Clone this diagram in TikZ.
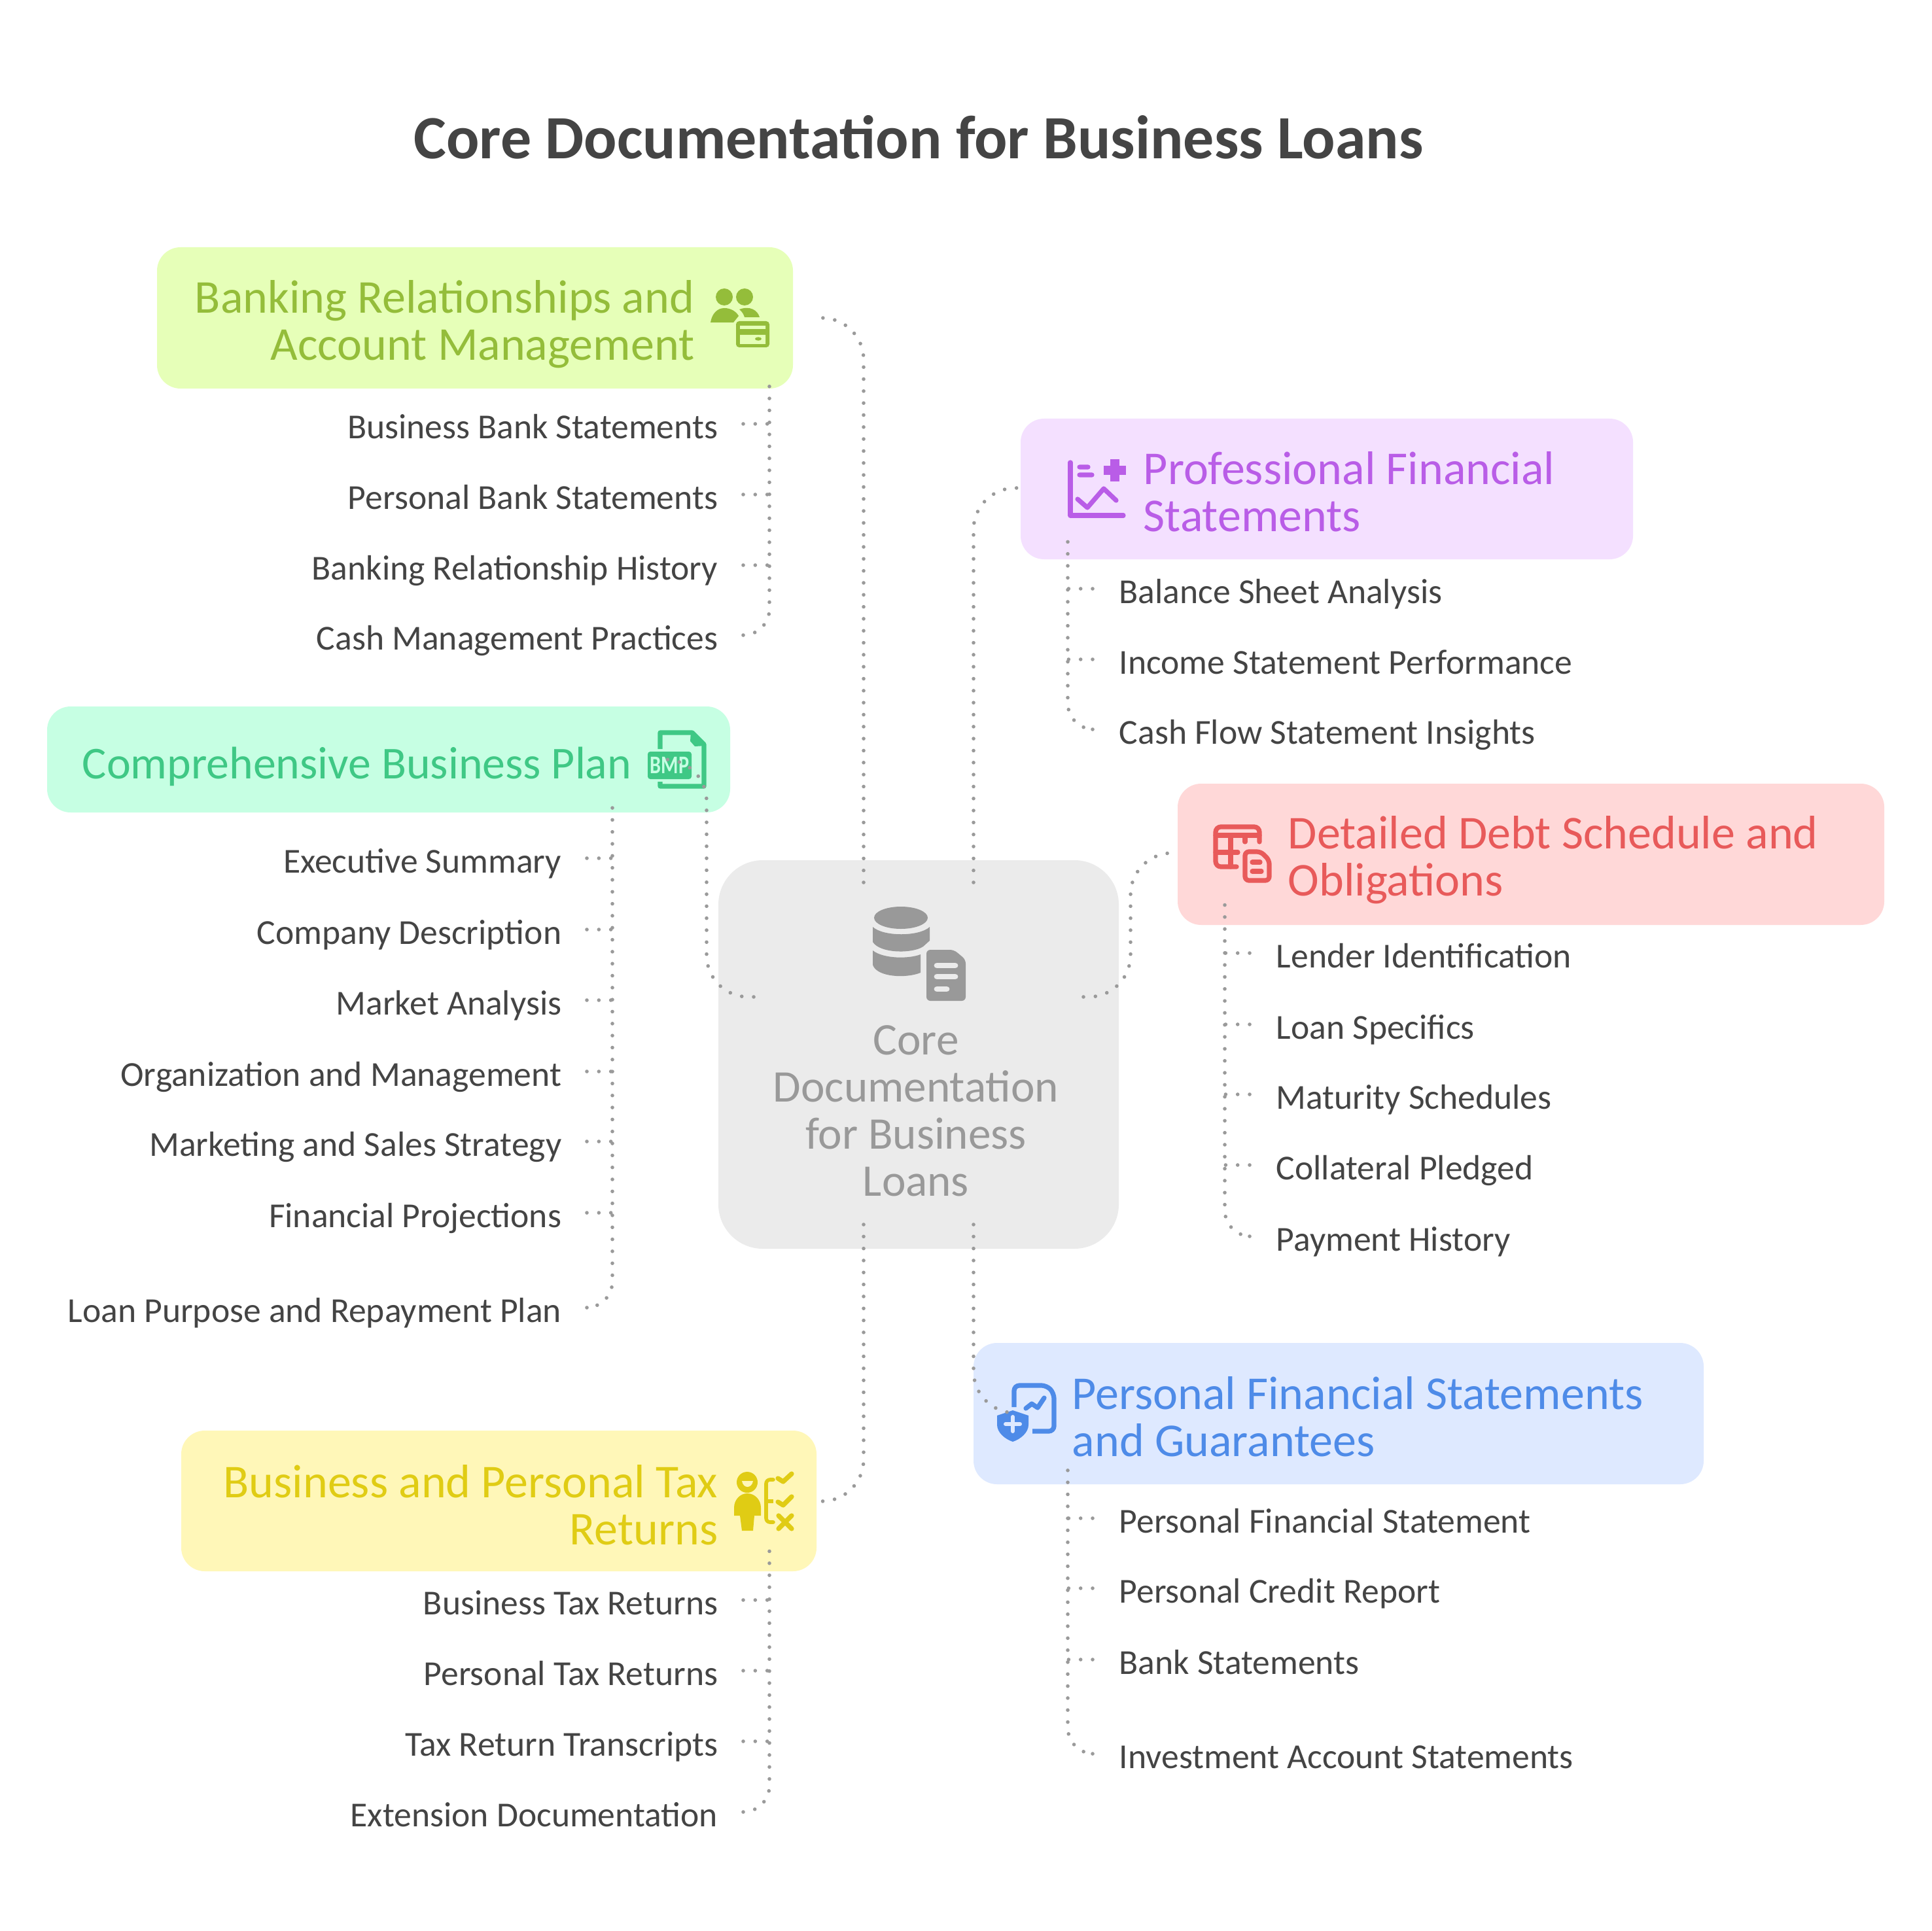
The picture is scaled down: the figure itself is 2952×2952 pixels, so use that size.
\documentclass[tikz,border=0pt]{standalone}
\usepackage{fontspec}
\usepackage{graphicx}
\setmainfont{Carlito}
\definecolor{ink}{HTML}{444444}
\definecolor{dot}{HTML}{9A9A9A}
\definecolor{gF}{HTML}{E6FFB8}\definecolor{gT}{HTML}{94BD3A}
\definecolor{pF}{HTML}{F4E0FF}\definecolor{pT}{HTML}{B95DE7}
\definecolor{mF}{HTML}{C6FFE3}\definecolor{mT}{HTML}{3FC885}
\definecolor{rF}{HTML}{FFD8D8}\definecolor{rT}{HTML}{E85A5A}
\definecolor{bF}{HTML}{DEE9FF}\definecolor{bT}{HTML}{4E8BE8}
\definecolor{yF}{HTML}{FFF7B8}\definecolor{yT}{HTML}{E0CC14}
\definecolor{cF}{HTML}{EBEBEB}\definecolor{cT}{HTML}{999999}
\tikzset{
  boxnode/.style={rounded corners=9pt,inner sep=0pt,outer sep=0pt},
  headtext/.style={inner sep=0pt,font=\fontsize{18}{18}\selectfont,align=#1},
  itemtext/.style={inner sep=0pt,text=ink,font=\fontsize{13.4}{15}\selectfont,text height=13.7pt,text depth=2.4pt},
  link/.style={draw=dot,line width=1.4pt,line cap=round,dash pattern=on 0pt off 4.58pt},
  trunklink/.style={link,rounded corners=10pt},
  corelink/.style={link,rounded corners=16pt},
  iconline/.style={line width=1.8pt,line cap=round,line join=round},
}
\begin{document}
\begin{tikzpicture}[x=0.25pt,y=-0.25pt]
\path[use as bounding box,fill=white] (0,0) rectangle (2952,2952);
\node[inner sep=0pt,text=ink,font=\fontsize{23.5}{24}\selectfont\bfseries] (title) at (1404,210) {Core Documentation for Business Loans};

% boxes
\node[boxnode,fill=gF,anchor=north west,minimum width=243pt,minimum height=54pt] (bank) at (240,378) {};
\node[boxnode,fill=pF,anchor=north west,minimum width=234pt,minimum height=53.75pt] (prof) at (1560,640) {};
\node[boxnode,fill=mF,anchor=north west,minimum width=261pt,minimum height=40.5pt] (plan) at (72,1080) {};
\node[boxnode,fill=rF,anchor=north west,minimum width=270pt,minimum height=54pt] (debt) at (1800,1198) {};
\node[boxnode,fill=bF,anchor=north west,minimum width=279pt,minimum height=54pt] (pers) at (1488,2053) {};
\node[boxnode,fill=yF,anchor=north west,minimum width=242.75pt,minimum height=53.75pt] (tax) at (277,2187) {};
\node[boxnode,rounded corners=17pt,fill=cF,anchor=north west,minimum width=153pt,minimum height=148.5pt] (core) at (1098,1315) {};

% box texts
\node[headtext=right,text=gT,anchor=east] (bankT) at (1062,496) {Banking Relationships and\\Account Management};
\node[headtext=left,text=pT,anchor=west] (profT) at (1747,752) {Professional Financial\\Statements};
\node[headtext=right,text=mT,anchor=east,font=\fontsize{17.45}{18}\selectfont] (planT) at (966,1172) {Comprehensive Business Plan};
\node[headtext=left,text=rT,anchor=west] (debtT) at (1968,1315) {Detailed Debt Schedule and\\Obligations};
\node[headtext=left,text=bT,anchor=west] (persT) at (1638,2166) {Personal Financial Statements\\and Guarantees};
\node[headtext=right,text=yT,anchor=east] (taxT) at (1098,2301) {Business and Personal Tax\\Returns};
\node[headtext=center,text=cT,font=\fontsize{17.3}{18}\selectfont] (coreT) at (1400,1698) {Core\\Documentation\\for Business\\Loans};

% icons
% bank
\fill[gT] (1107,454) circle[radius=13] (1138,454) circle[radius=13];
\fill[gT] (1086,493) .. controls (1088,480) and (1096,471) .. (1107,471) .. controls (1117,471) and (1125,476) .. (1129,483) -- (1121,493) -- cycle;
\fill[gT] (1130,473) .. controls (1146,467) and (1158,474) .. (1161,485) -- (1138,485) .. controls (1137,481) and (1134,476) .. (1130,473) -- cycle;
\fill[gT,rounded corners=1.2pt] (1125,491) rectangle (1176,531);
\fill[gF] (1131,498) rectangle (1170,503) (1131,512) rectangle (1170,526);
\fill[gT] (1159,518) ellipse[x radius=5,y radius=2.7];
% core
\fill[cT] (1377,1403) ellipse[x radius=41,y radius=17];
\fill[cT] (1334,1417) .. controls (1350,1432) and (1405,1432) .. (1421,1417) -- (1421,1438) -- (1411,1447) .. controls (1395,1458) and (1345,1458) .. (1334,1440) -- cycle;
\fill[cT] (1334,1453) .. controls (1350,1466) and (1390,1466) .. (1407,1459) -- (1407,1487) .. controls (1385,1496) and (1340,1494) .. (1334,1475) -- cycle;
\fill[cT,rounded corners=1.5pt] (1416,1452) -- (1458,1452) -- (1476,1467) -- (1476,1530) -- (1416,1530) -- cycle;
\draw[cF,line width=2.2pt,line cap=round] (1432,1476) -- (1460,1476) (1432,1493) -- (1460,1493) (1432,1512) -- (1447,1512);
% prof
\draw[pT,iconline] (1636,707) -- (1636,788) -- (1717,788);
\draw[pT,iconline] (1650,714) -- (1663,714) (1650,726) -- (1669,726) (1647,763) -- (1662,776) -- (1687,747) -- (1706,765);
\draw[pT,line width=3.3pt,line join=round] (1687,719) -- (1721,719) (1704,702) -- (1704,736);
% debt
\draw[rT,iconline,rounded corners=2pt] (1890,1325) -- (1858,1325) -- (1858,1264) -- (1925,1264) -- (1925,1287);
\draw[rT,iconline] (1858,1277) -- (1925,1277) (1903,1277) -- (1903,1287) (1858,1303) -- (1892,1303) (1881,1277) -- (1881,1325);
\draw[rT,iconline,rounded corners=1.5pt] (1903,1302) -- (1927,1302) -- (1940,1315) -- (1940,1346) -- (1903,1346) -- cycle;
\draw[rT,iconline] (1914,1318) -- (1926,1318) (1914,1332) -- (1928,1332);
% plan
\draw[mT,iconline,line cap=butt] (1009,1145) -- (1009,1120) -- (1058,1120) -- (1076,1138) -- (1076,1202) -- (1009,1202) -- (1009,1195);
\fill[mT] (1056,1118) -- (1079,1140) -- (1062,1141) -- (1055,1133) -- cycle;
\node[rounded corners=1pt,fill=mT,text=mF,inner sep=0pt,minimum width=16.75pt,minimum height=10.5pt,font=\fontsize{9.7}{10}\selectfont\bfseries] (bmp) at (1023.5,1170) {\scalebox{0.78}[1]{BMP}};
% tax
\fill[yT] (1142,2266) circle[radius=16];
\fill[yF] (1134,2264) .. controls (1136,2276) and (1149,2276) .. (1151,2264) -- cycle;
\fill[yT] (1122,2317) -- (1122,2305) .. controls (1122,2292) and (1132,2283) .. (1142,2283) .. controls (1153,2283) and (1163,2292) .. (1163,2305) -- (1163,2317) -- (1153,2317) -- (1151,2340) -- (1134,2340) -- (1131,2317) -- cycle;
\draw[yT,line width=1.4pt,line cap=round,rounded corners=1.5pt] (1182,2262) -- (1171,2262) -- (1171,2327) -- (1182,2327);
\draw[yT,line width=1.4pt] (1171,2295) -- (1182,2295);
\draw[yT,line width=1.8pt,line cap=round,line join=round] (1189,2260) -- (1197,2265) -- (1210,2253) (1189,2296) -- (1197,2301) -- (1210,2288) (1190,2317) -- (1210,2337) (1210,2317) -- (1190,2337);
% personal
\draw[bT,iconline,line cap=butt,rounded corners=2pt] (1550,2151) -- (1550,2118) -- (1600,2118) -- (1611,2130) -- (1611,2188) -- (1578,2188);
\draw[bT,iconline] (1568,2153) -- (1577,2146) -- (1586,2152) -- (1596,2137);
\fill[bT] (1524,2164) -- (1548,2156) -- (1572,2164) -- (1572,2178) .. controls (1572,2190) and (1560,2200) .. (1548,2204) .. controls (1536,2200) and (1524,2190) .. (1524,2178) -- cycle;
\draw[bF,line width=1.5pt,line cap=round] (1537,2177) -- (1559,2177) (1548,2166) -- (1548,2188);

% branch labels
\foreach \n/\y/\txt in {a/648/Business Bank Statements,b/756/Personal Bank Statements,c/864/Banking Relationship History,d/971/Cash Management Practices}
  \node[itemtext,anchor=east] (bank\n) at (1098,\y) {\txt};
\foreach \n/\y/\txt in {a/2446/Business Tax Returns,b/2554/Personal Tax Returns,c/2662/Tax Return Transcripts,d/2770/Extension Documentation}
  \node[itemtext,anchor=east] (tax\n) at (1098,\y) {\txt};
\foreach \n/\y/\txt in {a/1312/Executive Summary,b/1421/Company Description,c/1529/Market Analysis,d/1638/Organization and Management,e/1745/Marketing and Sales Strategy,f/1854/Financial Projections,g/1999/Loan Purpose and Repayment Plan}
  \node[itemtext,anchor=east] (plan\n) at (859,\y) {\txt};
\foreach \n/\y/\txt in {a/900/Balance Sheet Analysis,b/1008/Income Statement Performance,c/1115/Cash Flow Statement Insights}
  \node[itemtext,anchor=west] (prof\n) at (1710,\y) {\txt};
\foreach \n/\y/\txt in {a/1457/Lender Identification,b/1566/Loan Specifics,c/1673/Maturity Schedules,d/1781/Collateral Pledged,e/1890/Payment History}
  \node[itemtext,anchor=west] (debt\n) at (1950,\y) {\txt};
\foreach \n/\y/\txt in {a/2321/Personal Financial Statement,b/2428/Personal Credit Report,c/2537/Bank Statements,d/2681/Investment Account Statements}
  \node[itemtext,anchor=west] (pers\n) at (1710,\y) {\txt};

% connector ends
\coordinate (coreBank) at (1320,1349);
\coordinate (coreProf) at (1488,1349);
\coordinate (corePlan) at (1152,1524);
\coordinate (coreDebt) at (1656,1524);
\coordinate (coreTax) at (1320,1872);
\coordinate (corePers) at (1488,1872);
\coordinate (bankEnd) at (1258,486);
\coordinate (profEnd) at (1558,746);
\coordinate (planEnd) at (1021,1161);
\coordinate (debtEnd) at (1786,1304);
\coordinate (taxEnd) at (1256,2295);
\coordinate (persEnd) at (1557,2160);
\coordinate (planBus) at (1080,1524);
\coordinate (debtBus) at (1728,1524);
\coordinate (bankHub) at (1176,574);
\coordinate (taxHub) at (1176,2370);
\coordinate (planHub) at (936,1233);
\coordinate (profHub) at (1632,824);
\coordinate (debtHub) at (1872,1379);
\coordinate (persHub) at (1632,2244);

% core connectors
\draw[corelink] (coreBank) |- (bankEnd);
\draw[corelink] (coreProf) |- (profEnd);
\draw[corelink] (corePlan) -- (planBus) |- (planEnd);
\draw[corelink] (coreDebt) -- (debtBus) |- (debtEnd);
\draw[corelink] (coreTax) |- (taxEnd);
\draw[corelink] (corePers) |- (persEnd);

% trunks and branches
\foreach \bn/\lastn/\lst in {bank/d/{a,b,c},tax/d/{a,b,c},plan/g/{a,b,c,d,e,f}}{
  \draw[trunklink] ([xshift=9.5pt]\bn\lastn.east) -| (\bn Hub);
  \foreach \n in \lst
    \draw[link] ([xshift=9.5pt]\bn\n.east) -- (\bn Hub |- \bn\n.east);
}
\foreach \bn/\lastn/\lst in {prof/c/{a,b},debt/e/{a,b,c,d},pers/d/{a,b,c}}{
  \draw[trunklink] ([xshift=-10pt]\bn\lastn.west) -| (\bn Hub);
  \foreach \n in \lst
    \draw[link] ([xshift=-10pt]\bn\n.west) -- (\bn Hub |- \bn\n.west);
}
\end{tikzpicture}
\end{document}
